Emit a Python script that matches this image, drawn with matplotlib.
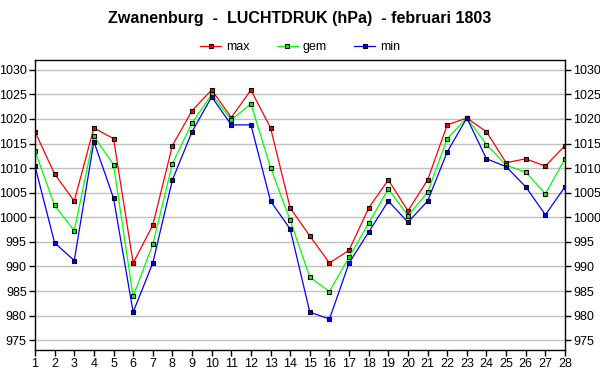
import matplotlib.pyplot as plt
from matplotlib.ticker import MultipleLocator

plt.rcParams['font.family'] = ['Liberation Sans', 'DejaVu Sans']

days = list(range(1, 29))
p_max = [1017.4, 1008.8, 1003.3, 1018.2, 1016.0, 990.7, 998.4, 1014.6, 1021.7, 1025.9,
         1020.3, 1025.9, 1018.2, 1001.9, 996.2, 990.7, 993.3, 1001.9, 1007.6, 1001.3,
         1007.6, 1018.8, 1020.2, 1017.4, 1011.1, 1011.9, 1010.4, 1014.6]
p_gem = [1013.5, 1002.4, 997.3, 1016.5, 1010.7, 983.9, 994.5, 1010.9, 1019.2, 1025.0,
         1019.8, 1023.1, 1010.1, 999.4, 987.8, 984.9, 991.9, 998.8, 1005.8, 1000.3,
         1005.1, 1016.0, 1020.2, 1014.8, 1010.6, 1009.2, 1004.8, 1011.9]
p_min = [1010.4, 994.8, 991.2, 1015.4, 1003.9, 980.7, 990.7, 1007.6, 1017.4, 1024.5,
         1018.8, 1018.8, 1003.3, 997.6, 980.7, 979.3, 990.7, 997.0, 1003.3, 999.0,
         1003.3, 1013.3, 1020.2, 1011.9, 1010.3, 1006.2, 1000.5, 1006.2]

series = [("max", p_max, "#ff0000"), ("gem", p_gem, "#00ff00"), ("min", p_min, "#0000ff")]

fig = plt.figure(figsize=(6, 3.9), dpi=100)
ax = fig.add_axes([35 / 600, 40 / 390, 530 / 600, 290 / 390])

for name, vals, col in series:
    ax.plot(days, vals, color=col, lw=0.9, marker="s", markersize=3.4,
            markerfacecolor=col, markeredgecolor="black", markeredgewidth=0.8, label=name)

ax.set_xlim(1, 28)
ax.set_ylim(973, 1032)
ax.set_xticks(days)
ax.yaxis.set_major_locator(MultipleLocator(5))
ax.set_yticks(range(975, 1031, 5))
ax.grid(axis="y", color="#c0c0c0", lw=1)
ax.set_axisbelow(True)
ax.tick_params(axis="both", direction="out", labelsize=9, length=4, width=1, pad=2)
ax.tick_params(axis="y", right=True, labelright=True)
for s in ax.spines.values():
    s.set_linewidth(1)

fig.text(0.5, 1 - 18 / 390, "Zwanenburg  -  LUCHTDRUK (hPa)  - februari 1803",
         ha="center", va="center", fontsize=11.5, fontweight="bold")
fig.legend(loc="center", bbox_to_anchor=(0.5, 1 - 47 / 390), ncol=3, frameon=False,
           fontsize=9, handlelength=1.7, columnspacing=2.2, handletextpad=0.35,
           markerscale=0.85)

fig.savefig("out.png", dpi=100)
